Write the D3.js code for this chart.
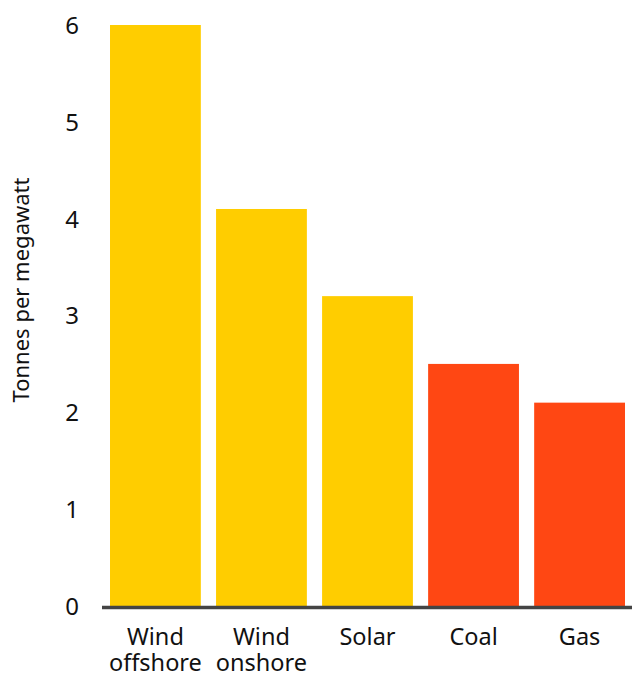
<!DOCTYPE html>
<html><head><meta charset="utf-8">
<script src="https://cdn.jsdelivr.net/npm/d3@7"></script>
<style>body{margin:0;background:#fff}svg{display:block}</style>
</head><body>
<script>
const categories = [["Wind","offshore"],["Wind","onshore"],["Solar"],["Coal"],["Gas"]];
const values = [6.0, 4.1, 3.2, 2.5, 2.1];
const groups = ["renewable","renewable","renewable","fossil","fossil"];
const yTicks = [0,1,2,3,4,5,6];
const yTitle = "Tonnes per megawatt";

const W = 632, H = 678;
const color = {renewable:"#FFCD00", fossil:"#FF4713"};
const font = "'Noto Sans', sans-serif";
const svg = d3.select("body").append("svg").attr("width",W).attr("height",H);

const x = d3.scaleBand().domain(d3.range(values.length)).range([102.4, 632.6]).paddingInner(0.1435).paddingOuter(0.07175);
const y = d3.scaleLinear().domain([0,6]).range([606, 25]);

svg.selectAll("rect.bar").data(values).join("rect")
  .attr("class","bar")
  .attr("x",(d,i)=>x(i)).attr("width",x.bandwidth())
  .attr("y",d=>y(d)).attr("height",d=>y(0)-y(d))
  .attr("fill",(d,i)=>color[groups[i]]);

// y axis labels
const yAxis = svg.append("g").attr("transform","translate(79,0)")
  .call(d3.axisLeft(y).tickValues(yTicks).tickSize(0).tickPadding(0).tickFormat(d3.format("d")));
yAxis.select(".domain").remove();
yAxis.selectAll("text").attr("font-family",font).attr("font-size",24).attr("fill","#111").attr("dy","0.35em");

// baseline
svg.append("line").attr("x1",102).attr("x2",W).attr("y1",y(0)+1.5).attr("y2",y(0)+1.5)
  .attr("stroke","#444").attr("stroke-width",3.5);

// x labels (one text per line)
const lines = [];
categories.forEach((c,i)=>c.forEach((t,j)=>lines.push({i,j,t})));
svg.append("g").selectAll("text").data(lines).join("text")
  .attr("x",d=>x(d.i)+x.bandwidth()/2).attr("y",d=>645+d.j*25.5)
  .attr("text-anchor","middle").attr("font-family",font).attr("font-size",23.5).attr("fill","#111")
  .text(d=>d.t);

svg.append("text").attr("transform","translate(29,290) rotate(-90)")
  .attr("text-anchor","middle").attr("font-family",font).attr("font-size",22).attr("fill","#111")
  .text(yTitle);
</script>
</body></html>
